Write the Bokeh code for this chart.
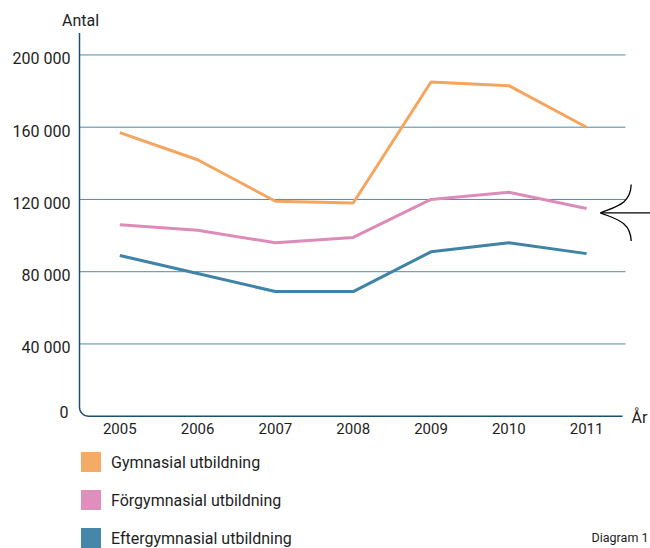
import numpy as np
from bokeh.plotting import figure
from bokeh.models import Range1d, Label, Legend, LegendItem
from bokeh.core.properties import value
from bokeh.embed import file_html
from bokeh.resources import INLINE

# ---------------- data ----------------
years = [2005, 2006, 2007, 2008, 2009, 2010, 2011]
gymnasial = [157000, 142000, 119000, 118000, 185000, 183000, 160000]
forgymnasial = [106000, 103000, 96000, 99000, 120000, 124000, 115000]
eftergymnasial = [89000, 79000, 69000, 69000, 91000, 96000, 90000]
y_ticks = [0, 40000, 80000, 120000, 160000, 200000]
y_tick_labels = ["0", "40 000", "80 000", "120 000", "160 000", "200 000"]
x_tick_labels = [str(y) for y in years]
series_names = ["Gymnasial utbildning", "Förgymnasial utbildning", "Eftergymnasial utbildning"]

# ---------------- layout (canvas px) ----------------
W, H = 650, 548
X0_PX, X_STEP = 119.3, 77.8             # px of first year, px per year
Y0_PX, Y_SCALE = 415.7, 40000 / 72.25   # px of zero, units per px


def fx(px):  # canvas px -> data x
    return years[0] + (px - X0_PX) / X_STEP


def fy(py):  # canvas px -> data y
    return (Y0_PX - py) * Y_SCALE


FONT = "Roboto"
TXT = "#1e1e1e"
C_GYM, C_FOR, C_EFT = "#f4a55e", "#dd8cba", "#3f83a6"
C_GYM_L, C_FOR_L, C_EFT_L = "#f4ab65", "#e08fbc", "#4587a8"

p = figure(width=W, height=H, output_backend="svg", toolbar_location=None,
           x_range=Range1d(fx(0), fx(W)), y_range=Range1d(fy(H), fy(0)),
           x_axis_location=None, y_axis_location=None, min_border=0)
p.outline_line_color = None
p.xgrid.visible = False
p.ygrid.visible = False

# grid lines
grid_vals = y_ticks[1:]
n = len(grid_vals)
p.segment(x0=[fx(79)] * n, x1=[fx(625)] * n, y0=grid_vals, y1=grid_vals,
          line_color="#4f8aab", line_width=1)

# axis line with rounded corner
r = 9
t = np.linspace(0, np.pi / 2, 12)
ax_px = [79, 79] + list(79 + r - r * np.cos(t)) + [622]
ax_py = [32.5, Y0_PX - r] + list(Y0_PX - r + r * np.sin(t)) + [Y0_PX]
p.line([fx(v) for v in ax_px], [fy(v) for v in ax_py], line_color="#1d4f6e", line_width=1.5)

# tick labels
p.text(x=[fx(79)] * (len(y_ticks) - 1), y=y_ticks[1:], text=y_tick_labels[1:],
       x_offset=-9, y_offset=4, text_align="right", text_baseline="middle",
       text_font=value(FONT), text_font_size="16px", text_color=TXT)
p.text(x=[fx(79)], y=y_ticks[:1], text=y_tick_labels[:1],
       x_offset=-11, y_offset=-4, text_align="right", text_baseline="middle",
       text_font=value(FONT), text_font_size="16px", text_color=TXT)
p.text(x=years, y=[y_ticks[0]] * len(years), text=x_tick_labels,
       y_offset=12.5, text_align="center", text_baseline="middle",
       text_font=value(FONT), text_font_size="15px", text_color=TXT)

# data lines
p.line(years, gymnasial, line_color=C_GYM, line_width=3)
p.line(years, forgymnasial, line_color=C_FOR, line_width=3)
p.line(years, eftergymnasial, line_color=C_EFT, line_width=3)

# legend swatches (hidden dummy renderers)
sw = []
for c in (C_GYM_L, C_FOR_L, C_EFT_L):
    sw.append(p.rect(x=[years[0]], y=[y_ticks[0]], width=0, height=0, fill_color=c, line_color=c,
                     line_width=10, line_join="round", visible=False))
legend = Legend(items=[LegendItem(label=nm, renderers=[r_]) for nm, r_ in zip(series_names, sw)],
                location=(81, 0), orientation="vertical",
                glyph_width=20, glyph_height=20, label_height=20, spacing=18,
                padding=0, margin=0, border_line_color=None, background_fill_alpha=0,
                label_standoff=10, label_text_font=FONT, label_text_font_size="16px",
                label_text_color=TXT, label_text_baseline="middle")
p.add_layout(legend)

# texts
p.add_layout(Label(x=fx(80), y=fy(20), text="Antal", text_align="center", text_baseline="middle",
                   text_font=FONT, text_font_size="16px", text_color=TXT))
p.add_layout(Label(x=fx(631), y=fy(416.5), text="År", text_align="left", text_baseline="middle",
                   text_font=FONT, text_font_size="16px", text_color=TXT))
p.add_layout(Label(x=fx(648), y=fy(537), text="Diagram 1", text_align="right", text_baseline="middle",
                   text_font=FONT, text_font_size="12.5px", text_color=TXT))

# bracket arrow at right
p.line([fx(600), fx(652)], [fy(212.3), fy(212.3)], line_color="black", line_width=1.3)
p.bezier(x0=[fx(600), fx(600)], y0=[fy(212.3), fy(212.3)],
         x1=[fx(630.7), fx(630.7)], y1=[fy(184), fy(240.6)],
         cx0=[fx(615), fx(615)], cy0=[fy(206), fy(218.6)],
         cx1=[fx(630), fx(630)], cy1=[fy(204), fy(220.6)],
         line_color="black", line_width=1.3)

open("out.html", "w").write(file_html(p, INLINE))
